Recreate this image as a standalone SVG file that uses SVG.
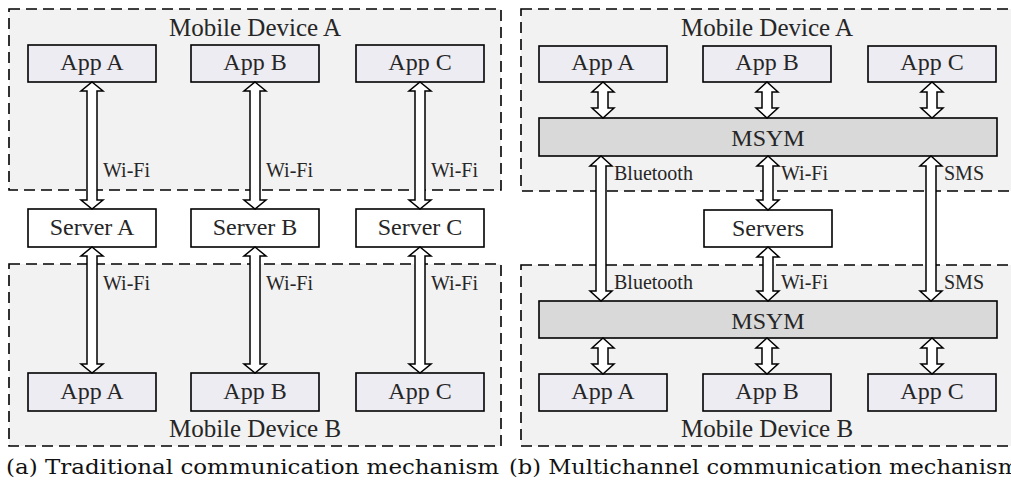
<svg xmlns="http://www.w3.org/2000/svg" width="1011" height="495" viewBox="0 0 1011 495">
<defs>
<style>
.dev{fill:#f2f2f2;stroke:#000;stroke-width:1.6;stroke-dasharray:11 6}
.app{fill:#eeecf3;stroke:#000;stroke-width:1.6}
.srv{fill:#fff;stroke:#000;stroke-width:1.6}
.msym{fill:#d9d9d9;stroke:#000;stroke-width:1.6}
.arr{fill:#fff;stroke:#000;stroke-width:1.5;stroke-linejoin:miter}
.t{font-family:'Liberation Serif','Times New Roman',Times,serif;fill:#262626}
.big{font-size:24px;text-anchor:middle}
.dl{font-size:25px;text-anchor:middle}
.lbl{font-size:20px}
.cap{font-family:'DejaVu Serif',serif;font-size:20px;fill:#111}
</style>
</defs>
<rect width="1011" height="495" fill="#fff"/>

<g class="t" font-family="Liberation Serif, serif">
<!-- Panel (a) -->
<g id="a-deviceA"><rect class="dev" x="9" y="9" width="492" height="181"/><text class="dl" x="255" y="36">Mobile Device A</text></g>
<g id="a-deviceB"><rect class="dev" x="9" y="264" width="492" height="182"/><text class="dl" x="255" y="437">Mobile Device B</text></g>
<g id="a-appA1"><rect class="app" x="28" y="45" width="128" height="37"/><text class="big" x="92" y="70">App A</text></g>
<g id="a-appB1"><rect class="app" x="191" y="45" width="128" height="37"/><text class="big" x="255" y="70">App B</text></g>
<g id="a-appC1"><rect class="app" x="356" y="45" width="128" height="37"/><text class="big" x="420" y="70">App C</text></g>
<g id="a-serverA"><rect class="srv" x="28" y="209" width="128" height="38"/><text class="big" x="92" y="235">Server A</text></g>
<g id="a-serverB"><rect class="srv" x="191" y="209" width="128" height="38"/><text class="big" x="255" y="235">Server B</text></g>
<g id="a-serverC"><rect class="srv" x="356" y="209" width="128" height="38"/><text class="big" x="420" y="235">Server C</text></g>
<g id="a-appA2"><rect class="app" x="28" y="373" width="128" height="38"/><text class="big" x="92" y="399">App A</text></g>
<g id="a-appB2"><rect class="app" x="191" y="373" width="128" height="38"/><text class="big" x="255" y="399">App B</text></g>
<g id="a-appC2"><rect class="app" x="356" y="373" width="128" height="38"/><text class="big" x="420" y="399">App C</text></g>

<!-- Panel (b) -->
<g id="b-deviceA"><rect class="dev" x="521" y="9" width="493" height="182"/><text class="dl" x="767" y="36">Mobile Device A</text></g>
<g id="b-deviceB"><rect class="dev" x="521" y="265" width="493" height="181"/><text class="dl" x="767" y="437">Mobile Device B</text></g>
<g id="b-appA1"><rect class="app" x="539" y="46" width="128" height="36"/><text class="big" x="603" y="70">App A</text></g>
<g id="b-appB1"><rect class="app" x="703" y="46" width="128" height="36"/><text class="big" x="767" y="70">App B</text></g>
<g id="b-appC1"><rect class="app" x="868" y="46" width="128" height="36"/><text class="big" x="932" y="70">App C</text></g>
<g id="b-msym1"><rect class="msym" x="539" y="118" width="458" height="38"/><text class="big" x="768" y="146">MSYM</text></g>
<g id="b-servers"><rect class="srv" x="704" y="210" width="128" height="37"/><text class="big" x="768" y="236">Servers</text></g>
<g id="b-msym2"><rect class="msym" x="539" y="301" width="458" height="37"/><text class="big" x="768" y="329">MSYM</text></g>
<g id="b-appA2"><rect class="app" x="539" y="374" width="128" height="37"/><text class="big" x="603" y="399">App A</text></g>
<g id="b-appB2"><rect class="app" x="703" y="374" width="128" height="37"/><text class="big" x="767" y="399">App B</text></g>
<g id="b-appC2"><rect class="app" x="868" y="374" width="128" height="37"/><text class="big" x="932" y="399">App C</text></g>

<!-- Connectors -->
<g id="connectors">
<path class="arr" d="M92,82 L103,91 L97,91 L97,200 L103,200 L92,209 L81,200 L87,200 L87,91 L81,91 Z"/>
<path class="arr" d="M255,82 L266,91 L260,91 L260,200 L266,200 L255,209 L244,200 L250,200 L250,91 L244,91 Z"/>
<path class="arr" d="M420,82 L431,91 L425,91 L425,200 L431,200 L420,209 L409,200 L415,200 L415,91 L409,91 Z"/>
<path class="arr" d="M92,247 L103,256 L97,256 L97,364 L103,364 L92,373 L81,364 L87,364 L87,256 L81,256 Z"/>
<path class="arr" d="M255,247 L266,256 L260,256 L260,364 L266,364 L255,373 L244,364 L250,364 L250,256 L244,256 Z"/>
<path class="arr" d="M420,247 L431,256 L425,256 L425,364 L431,364 L420,373 L409,364 L415,364 L415,256 L409,256 Z"/>
<path class="arr" d="M603,82 L614,92 L608,92 L608,108 L614,108 L603,118 L592,108 L598,108 L598,92 L592,92 Z"/>
<path class="arr" d="M767,82 L778,92 L772,92 L772,108 L778,108 L767,118 L756,108 L762,108 L762,92 L756,92 Z"/>
<path class="arr" d="M932,82 L943,92 L937,92 L937,108 L943,108 L932,118 L921,108 L927,108 L927,92 L921,92 Z"/>
<path class="arr" d="M601,156 L612,166 L606,166 L606,291 L612,291 L601,301 L590,291 L596,291 L596,166 L590,166 Z"/>
<path class="arr" d="M931,156 L942,166 L936,166 L936,291 L942,291 L931,301 L920,291 L926,291 L926,166 L920,166 Z"/>
<path class="arr" d="M768,156 L779,166 L773,166 L773,200 L779,200 L768,210 L757,200 L763,200 L763,166 L757,166 Z"/>
<path class="arr" d="M768,247 L779,257 L773,257 L773,291 L779,291 L768,301 L757,291 L763,291 L763,257 L757,257 Z"/>
<path class="arr" d="M603,338 L614,348 L608,348 L608,364 L614,364 L603,374 L592,364 L598,364 L598,348 L592,348 Z"/>
<path class="arr" d="M767,338 L778,348 L772,348 L772,364 L778,364 L767,374 L756,364 L762,364 L762,348 L756,348 Z"/>
<path class="arr" d="M932,338 L943,348 L937,348 L937,364 L943,364 L932,374 L921,364 L927,364 L927,348 L921,348 Z"/>
<text class="lbl" x="103" y="177">Wi-Fi</text>
<text class="lbl" x="266" y="177">Wi-Fi</text>
<text class="lbl" x="431" y="177">Wi-Fi</text>
<text class="lbl" x="103" y="290">Wi-Fi</text>
<text class="lbl" x="266" y="290">Wi-Fi</text>
<text class="lbl" x="431" y="290">Wi-Fi</text>
<text class="lbl" x="614" y="180">Bluetooth</text>
<text class="lbl" x="781" y="180">Wi-Fi</text>
<text class="lbl" x="944" y="180">SMS</text>
<text class="lbl" x="614" y="289">Bluetooth</text>
<text class="lbl" x="781" y="289">Wi-Fi</text>
<text class="lbl" x="944" y="289">SMS</text>
</g>
</g>

<text class="cap" x="6" y="474" textLength="493" lengthAdjust="spacingAndGlyphs">(a) Traditional communication mechanism</text>
<text class="cap" x="509" y="474" textLength="510" lengthAdjust="spacingAndGlyphs">(b) Multichannel communication mechanism</text>
</svg>
